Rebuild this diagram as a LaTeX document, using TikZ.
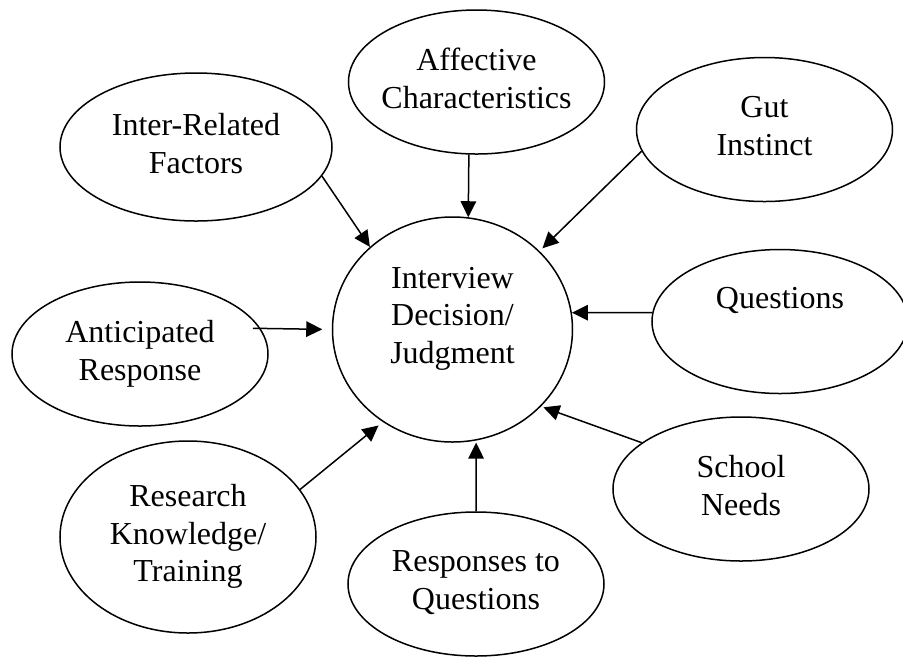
\documentclass[tikz,border=0pt]{standalone}
\usepackage{fontspec}
\setmainfont{Liberation Serif}
\usepackage{tikz}
\usetikzlibrary{arrows.meta,shapes.geometric}
\tikzset{
  factorNode/.style={draw, ellipse, line width=0.6pt, inner xsep=-8pt, inner ysep=0pt,
    minimum width=102.4pt, minimum height=57.6pt, align=center, text depth=3pt,
    font=\fontsize{12.8}{15}\selectfont},
  decisionNode/.style={factorNode, minimum width=96pt, minimum height=90pt, text depth=11.4pt},
  factorArrow/.style={-{Triangle[length=6.4pt,width=6.2pt]}, line width=0.6pt}
}

\begin{document}
\begin{tikzpicture}[x=0.4pt,y=-0.4pt]
  \useasboundingbox (0,0) rectangle (903,656);
  % the decision in the middle
  \node[decisionNode] (dec) at (452.5,329.5) {Interview\\Decision/\\Judgment};
  % factors around it
  \node[factorNode, minimum width=108.8pt, minimum height=59.2pt] (inter) at (196,147) {Inter-Related\\Factors};
  \node[factorNode] (affect) at (476.5,82) {Affective\\Characteristics};
  \node[factorNode] (gut) at (764.5,129.5) {Gut\\Instinct};
  \node[factorNode, text depth=19pt] (quest) at (780,321.5) {Questions};
  \node[factorNode] (antic) at (140,354) {Anticipated\\Response};
  \node[factorNode, minimum height=76.8pt] (research) at (188,537) {Research\\Knowledge/\\Training};
  \node[factorNode] (resp) at (476,584) {Responses to\\Questions};
  \node[factorNode] (school) at (741,489) {School\\Needs};
  % arrows into the decision
  \draw[factorArrow] (inter.-13) -- (dec.135);
  \draw[factorArrow] (affect.-96) -- (dec.82);
  \draw[factorArrow, shorten >=1.6pt] (gut.190) -- (dec.42);
  \draw[factorArrow] (quest.176) -- (dec.8);
  \draw[factorArrow, shorten <=-3pt, shorten >=3.8pt] (antic.12) -- (dec.180);
  \draw[factorArrow, shorten >=2.2pt] (research.23) -- (dec.233);
  \draw[factorArrow, shorten >=0.8pt] (resp.north) -- (dec.-78);
  \draw[factorArrow, shorten >=1pt] (school.155) -- (dec.-41);
\end{tikzpicture}
\end{document}
